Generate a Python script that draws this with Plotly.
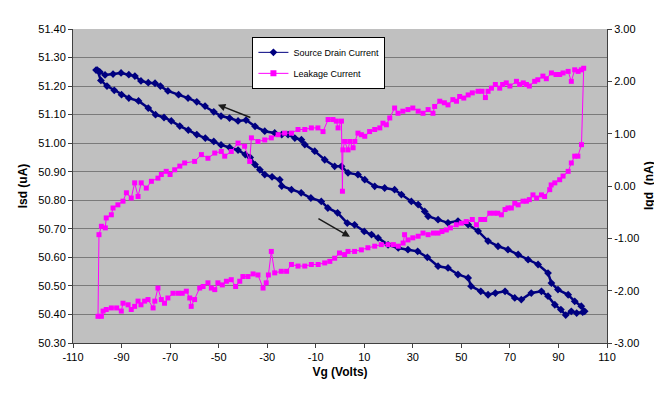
import plotly.graph_objects as go

# ---------------- data ----------------
# Source-drain current (uA), forward sweep (lower branch)
sd_fwd_x = [-100, -98.5, -96, -93, -90, -87, -83, -79, -76, -72.5, -69.5, -66, -62.5, -59, -55.5,
            -52, -49, -45.5, -42, -39, -37, -35, -33, -31, -28, -24.8, -24, -20, -16, -12, -7.7,
            -5, -1, 3, 6, 10, 13, 15.7, 19.8, 24, 28, 32, 36, 40.4, 44.5, 48.6, 52.8, 54, 58, 61,
            64, 68, 72, 74.7, 78.8, 83, 85.7, 88.5, 91, 93, 95.3, 97.5, 100]
sd_fwd_y = [51.256, 51.22, 51.20, 51.185, 51.17, 51.158, 51.148, 51.123, 51.10, 51.09, 51.078,
            51.06, 51.046, 51.03, 51.018, 51.006, 50.994, 50.985, 50.976, 50.96, 50.95, 50.925,
            50.907, 50.89, 50.882, 50.872, 50.85, 50.837, 50.826, 50.808, 50.796, 50.773, 50.756,
            50.72, 50.714, 50.691, 50.68, 50.668, 50.644, 50.633, 50.627, 50.621, 50.60, 50.569,
            50.563, 50.54, 50.528, 50.499, 50.481, 50.469, 50.475, 50.481, 50.458, 50.452, 50.475,
            50.481, 50.464, 50.434, 50.417, 50.398, 50.411, 50.405, 50.408]
# Source-drain current (uA), reverse sweep (upper branch)
sd_rev_x = [100.8, 99.4, 96.7, 94, 89.8, 87.1, 85.7, 81.6, 77.5, 73.4, 69.2, 65.1, 61, 56.9, 52.8,
            48.6, 44.5, 40.4, 36.3, 34.9, 32.2, 29.4, 25.3, 22.5, 18.4, 14.3, 10.2, 7.4, 3.3, 0.6,
            -2.2, -6.3, -10.4, -14.5, -15.9, -18.6, -21.4, -24, -26.9, -31, -35, -38.7, -42, -45.5,
            -49, -52, -55.6, -59, -62.6, -66.5, -70.9, -74, -76.2, -79, -82, -84.5, -87, -90.2,
            -93.5, -96.8, -99, -100.5]
sd_rev_y = [50.411, 50.429, 50.446, 50.469, 50.487, 50.51, 50.545, 50.575, 50.592, 50.61, 50.627,
            50.639, 50.657, 50.692, 50.715, 50.727, 50.721, 50.732, 50.744, 50.761, 50.785, 50.796,
            50.82, 50.837, 50.843, 50.849, 50.872, 50.89, 50.896, 50.919, 50.919, 50.942, 50.972,
            50.995, 51.012, 51.018, 51.03, 51.03, 51.036, 51.042, 51.059, 51.081, 51.078, 51.088,
            51.095, 51.11, 51.13, 51.145, 51.158, 51.17, 51.183, 51.20, 51.21, 51.212, 51.218,
            51.235, 51.24, 51.246, 51.242, 51.239, 51.25, 51.256]

# Leakage current (nA), forward sweep (upper branch)
lk_fwd_x = [-99.7, -99.3, -98.3, -96.7, -96.3, -94.2, -93.5, -91.5, -89.4, -88, -86, -84.6, -83.2,
            -81.9, -79.8, -77.7, -75, -73.6, -71.6, -70, -68.1, -66, -64, -59.9, -57.1, -54.4,
            -51.6, -48.9, -47.5, -44.8, -42, -39.3, -37.2, -36.5, -33.8, -31, -28.3, -25.5, -22.8,
            -20, -17.3, -14.5, -11.8, -9.1, -7, -4.9, -2.9, -1.5, -0.8, 0.6, 1, 1.2, 1.9, 3.3, 4,
            5.4, 6.1, 7.4, 8.8, 10.2, 12.2, 14.3, 16.4, 17.7, 19.1, 20.5, 22.5, 23.9, 25.9, 28, 30,
            32.2, 34.2, 36.3, 38.3, 39, 41.1, 43, 44.5, 46.5, 48, 49.3, 51, 52.8, 54.5, 56.9, 58.5,
            59.9, 61, 62.4, 64, 65.8, 67, 68.5, 70, 72.7, 74, 75.5, 76.8, 78, 80.2, 81.5, 83.6, 85,
            87.1, 89, 90.5, 91.9, 94, 95.3, 96.7, 98.1, 99.4, 100.4]
lk_fwd_y = [-2.49, -0.93, -0.77, -0.80, -0.61, -0.55, -0.42, -0.36, -0.29, -0.13, -0.23, 0.06,
            -0.20, 0.06, -0.04, 0.09, 0.15, 0.22, 0.28, 0.22, 0.31, 0.38, 0.44, 0.47, 0.60, 0.53,
            0.63, 0.66, 0.57, 0.66, 0.82, 0.76, 0.47, 0.92, 0.85, 0.88, 0.92, 0.98, 1.01, 1.01,
            1.08, 1.08, 1.11, 1.11, 1.04, 1.27, 1.27, 1.24, 1.11, 1.24, -0.10, 0.69, 0.85, 0.69,
            0.85, 0.73, 0.85, 1.01, 0.98, 0.95, 1.04, 1.08, 1.11, 1.20, 1.17, 1.30, 1.49, 1.39,
            1.43, 1.46, 1.49, 1.43, 1.39, 1.46, 1.39, 1.52, 1.62, 1.59, 1.55, 1.65, 1.62, 1.71,
            1.68, 1.74, 1.78, 1.81, 1.81, 1.69, 1.81, 1.87, 1.94, 1.87, 1.94, 1.97, 1.91, 2.00,
            1.94, 1.97, 1.94, 1.91, 2.00, 2.03, 2.10, 2.05, 2.16, 2.13, 2.13, 2.16, 2.19, 2.00,
            2.22, 2.19, 2.22, 2.25]
# Leakage current (nA), reverse sweep (lower branch)
lk_rev_x = [99.5, 98, 96.7, 95.3, 94, 91.9, 90.5, 88.5, 87, 86.4, 84.3, 83, 81, 79.5, 78, 76.8,
            75.4, 73.4, 72, 70.6, 69.2, 68, 66.5, 65, 63.5, 61.7, 59.6, 58, 56.2, 54.5, 52, 50,
            47.9, 45.5, 43.8, 42, 40.4, 38.5, 36.3, 34.2, 32.2, 30, 28, 26.6, 26, 24, 22, 19.8, 17,
            14.3, 11.5, 8.8, 6, 3.3, 1.9, -0.2, -2.2, -4.2, -6.3, -9, -11.8, -14.5, -17.3, -20,
            -22, -24.2, -26.9, -28.3, -29.5, -30.4, -31.7, -33.8, -35.8, -37.9, -40, -41.3, -43,
            -44.8, -46.8, -48.5, -50.3, -51.6, -53, -54.4, -56.4, -57.8, -59.9, -61.3, -61.9,
            -63.3, -65, -66.7, -68.8, -70.9, -72.3, -73.6, -75, -76.3, -77, -79.1, -80.5, -82,
            -83.2, -84.6, -86, -87.3, -89.4, -90.1, -92, -94.2, -96.3, -97.6, -98.3]
lk_rev_y = [0.79, 0.57, 0.57, 0.44, 0.28, 0.19, 0.12, 0.06, 0.02, -0.07, -0.20, -0.17, -0.23,
            -0.17, -0.26, -0.29, -0.29, -0.36, -0.33, -0.42, -0.42, -0.45, -0.55, -0.52, -0.52,
            -0.52, -0.64, -0.64, -0.74, -0.64, -0.68, -0.71, -0.74, -0.80, -0.84, -0.87, -0.90,
            -0.90, -0.93, -0.90, -0.96, -0.99, -1.03, -0.93, -1.09, -1.15, -1.12, -1.12, -1.12,
            -1.15, -1.18, -1.22, -1.25, -1.25, -1.31, -1.28, -1.38, -1.44, -1.47, -1.50, -1.50,
            -1.53, -1.53, -1.50, -1.63, -1.63, -1.66, -1.25, -1.70, -1.85, -1.95, -1.70, -1.68,
            -1.73, -1.73, -1.82, -1.92, -1.79, -1.82, -1.89, -1.85, -1.98, -1.95, -1.85, -1.92,
            -1.95, -2.17, -2.30, -2.14, -2.01, -2.05, -2.05, -2.05, -2.14, -2.24, -2.17, -1.95,
            -2.20, -2.33, -2.17, -2.20, -2.27, -2.20, -2.30, -2.36, -2.27, -2.24, -2.39, -2.33,
            -2.33, -2.36, -2.39, -2.49]

x_ticks = [-110, -90, -70, -50, -30, -10, 10, 30, 50, 70, 90, 110]
x_tick_text = ["-110", "-90", "-70", "-50", "-30", "-10", "10", "30", "50", "70", "90", "110"]
y1_ticks = [50.3, 50.4, 50.5, 50.6, 50.7, 50.8, 50.9, 51.0, 51.1, 51.2, 51.3, 51.4]
y1_tick_text = ["50.30", "50.40", "50.50", "50.60", "50.70", "50.80", "50.90", "51.00",
                "51.10", "51.20", "51.30", "51.40"]
y2_ticks = [-3, -2, -1, 0, 1, 2, 3]
y2_tick_text = ["-3.00", "-2.00", "-1.00", "0.00", "1.00", "2.00", "3.00"]

# arrows (tail -> head), in data coordinates
arrow1 = dict(tail=(-36.3, 51.088), head=(-50.3, 51.135))
arrow2 = dict(tail=(-9.5, 50.739), head=(4.1, 50.672))

# ---------------- figure ----------------
FONT = "Arial, Liberation Sans, sans-serif"
NAVY = "#000080"
MAG = "#ff00ff"
AX = "#404040"

fig = go.Figure()

fig.add_trace(go.Scatter(
    x=sd_fwd_x + sd_rev_x, y=sd_fwd_y + sd_rev_y, mode="lines+markers",
    line=dict(color=NAVY, width=2.5),
    marker=dict(symbol="diamond", size=6, color=NAVY),
    showlegend=False, yaxis="y"))

fig.add_trace(go.Scatter(
    x=lk_fwd_x + lk_rev_x, y=lk_fwd_y + lk_rev_y, mode="lines+markers",
    line=dict(color=MAG, width=1),
    marker=dict(symbol="square", size=5, color=MAG),
    showlegend=False, yaxis="y2"))

# legend-only entries
fig.add_trace(go.Scatter(
    x=[None], y=[None], mode="lines+markers", name="Source Drain Current",
    line=dict(color=NAVY, width=1), marker=dict(symbol="diamond", size=6, color=NAVY),
    legendgroup="a", yaxis="y"))
fig.add_trace(go.Scatter(
    x=[None], y=[None], mode="lines+markers", name="Leakage Current",
    line=dict(color=MAG, width=1), marker=dict(symbol="square", size=6, color=MAG),
    legendgroup="b", yaxis="y2"))

for a in (arrow1, arrow2):
    fig.add_annotation(
        x=a["head"][0], y=a["head"][1], ax=a["tail"][0], ay=a["tail"][1],
        xref="x", yref="y", axref="x", ayref="y", text="", showarrow=True,
        arrowhead=2, arrowsize=1, arrowwidth=1.5, arrowcolor="#1a1a1a")

# right axis title
fig.add_annotation(
    text="<b>Igd  (nA)</b>", xref="paper", yref="paper", x=1.0787, y=0.5,
    xanchor="center", yanchor="middle", textangle=-90, showarrow=False,
    font=dict(family=FONT, size=12, color="black"))

fig.update_layout(
    width=662, height=396,
    margin=dict(l=65, r=63, t=21, b=61),
    paper_bgcolor="white", plot_bgcolor="#c0c0c0",
    font=dict(family=FONT, size=11, color="black"),
    legend=dict(x=0.336, y=0.975, xanchor="left", yanchor="top",
                bgcolor="white", bordercolor="black", borderwidth=1,
                font=dict(family=FONT, size=9), tracegroupgap=2,
                itemwidth=30, traceorder="grouped"),
    xaxis=dict(range=[-110, 110], tickvals=x_ticks, ticktext=x_tick_text,
               showgrid=False, zeroline=False,
               showline=True, linecolor=AX, ticks="outside", ticklen=4,
               tickcolor=AX, tickfont=dict(size=11),
               title=dict(text="<b>Vg (Volts)</b>", font=dict(size=12), standoff=5)),
    yaxis=dict(range=[50.30, 51.40], tickvals=y1_ticks, ticktext=y1_tick_text,
               showgrid=True, gridcolor="#7a7a7a", gridwidth=1, zeroline=False,
               showline=True, linecolor=AX, ticks="outside", ticklen=4,
               tickcolor=AX, tickfont=dict(size=11),
               title=dict(text="<b>Isd (uA)</b>", font=dict(size=12), standoff=8)),
    yaxis2=dict(range=[-3, 3], tickvals=y2_ticks, ticktext=y2_tick_text, overlaying="y",
                side="right", showgrid=False, zeroline=False, showline=True,
                linecolor=AX, ticks="outside", ticklen=4, tickcolor=AX,
                tickfont=dict(size=11)),
)

fig.write_html("out.html")
